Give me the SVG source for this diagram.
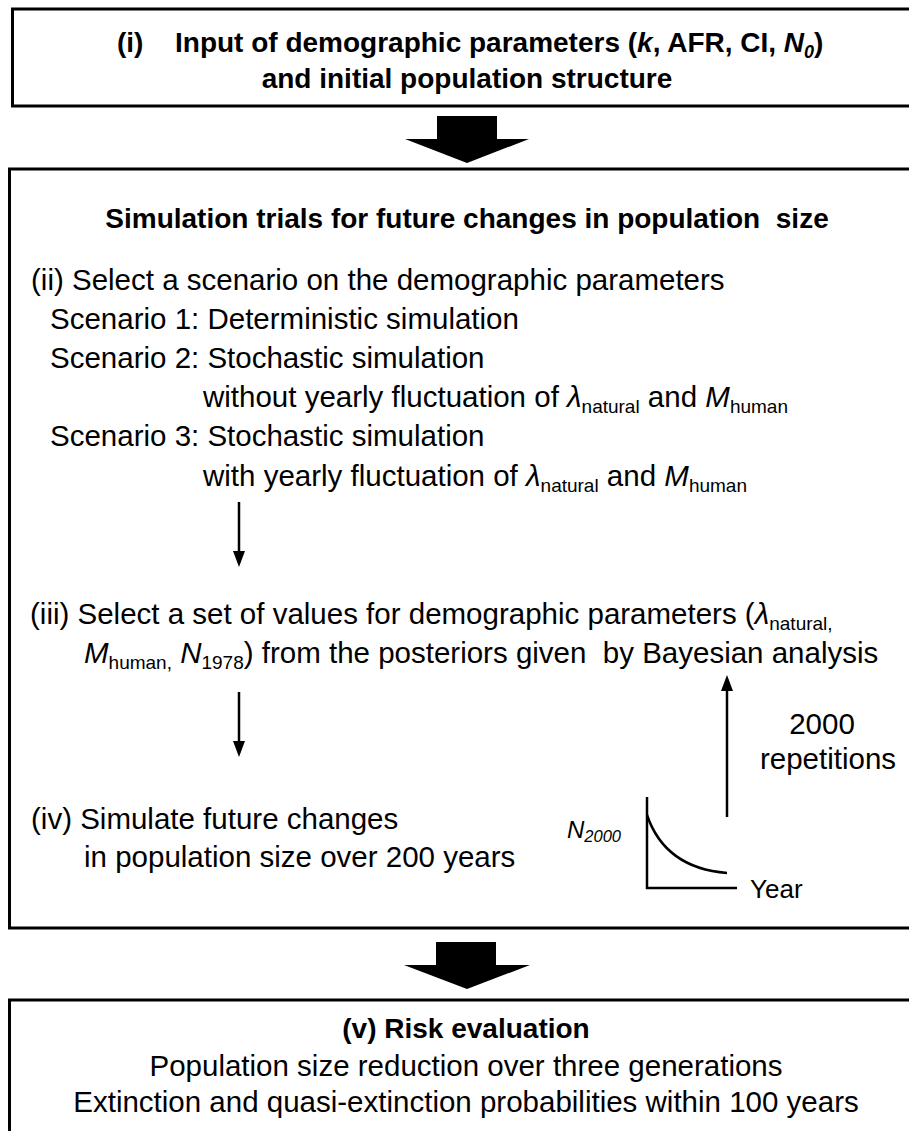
<svg xmlns="http://www.w3.org/2000/svg" width="909" height="1131" viewBox="0 0 909 1131">
<style>
text { font-family: "Liberation Sans", Arial, sans-serif; fill: #000; }
.r { font-size: 29.5px; }
.b { font-size: 28px; font-weight: bold; }
.i { font-style: italic; }
.sub { font-size: 19px; }
.box { fill: #fff; stroke: #000; stroke-width: 3; }
.ln { stroke: #000; stroke-width: 2.5; fill: none; }
.big { fill: #000; }
</style>
<defs>
<marker id="ah" markerWidth="16" markerHeight="12" viewBox="0 0 16 12" refX="12" refY="6" orient="auto" markerUnits="userSpaceOnUse">
<path d="M0,0 L16,6 L0,12 z" fill="#000"/>
</marker>
</defs>
<rect width="909" height="1131" fill="#fff"/>

<g id="box1">
<rect class="box" x="12.5" y="9" width="920" height="97"/>
<text class="b" y="52" font-size="27.5"><tspan x="117">(i)</tspan><tspan x="175">Input of demographic parameters (</tspan><tspan class="i">k</tspan>, AFR, CI, <tspan class="i">N</tspan><tspan class="i" font-size="18" dy="6">0</tspan><tspan dy="-6">)</tspan></text>
<text class="b" x="467" y="88" text-anchor="middle">and initial population structure</text>
</g>

<g id="box2">
<rect class="box" x="9.5" y="169" width="920" height="759"/>
<text class="b" x="467" y="228" text-anchor="middle" xml:space="preserve">Simulation trials for future changes in population  size</text>
<text class="r" x="31" y="290">(ii) Select a scenario on the demographic parameters</text>
<text class="r" x="50" y="329">Scenario 1: Deterministic simulation</text>
<text class="r" x="50" y="368">Scenario 2: Stochastic simulation</text>
<text class="r" x="203" y="407">without yearly fluctuation of <tspan class="i">λ</tspan><tspan class="sub" dy="6">natural</tspan><tspan dy="-6"> and </tspan><tspan class="i">M</tspan><tspan class="sub" dy="6">human</tspan></text>
<text class="r" x="50" y="446">Scenario 3: Stochastic simulation</text>
<text class="r" x="203" y="486">with yearly fluctuation of <tspan class="i">λ</tspan><tspan class="sub" dy="6">natural</tspan><tspan dy="-6"> and </tspan><tspan class="i">M</tspan><tspan class="sub" dy="6">human</tspan></text>
<text class="r" x="30" y="624">(iii) Select a set of values for demographic parameters (<tspan class="i">λ</tspan><tspan class="sub" dy="6">natural,</tspan></text>
<text class="r" x="84" y="663" xml:space="preserve"><tspan class="i">M</tspan><tspan class="sub" dy="6">human,</tspan><tspan dy="-6"> </tspan><tspan class="i">N</tspan><tspan class="sub" dy="6">1978</tspan><tspan dy="-6">) from the posteriors given  by Bayesian analysis</tspan></text>
<text class="r" x="822" y="734" text-anchor="middle">2000</text>
<text class="r" x="828" y="769" text-anchor="middle">repetitions</text>
<text class="r" x="31" y="829">(iv) Simulate future changes</text>
<text class="r" x="84" y="867">in population size over 200 years</text>
</g>

<g id="graph">
<path class="ln" d="M647,797 L647,888 L737,888"/>
<path class="ln" d="M647,815 Q665,868 727,873"/>
<text class="i" x="567" y="838" font-size="24">N<tspan font-size="16.5" dy="4">2000</tspan></text>
<text x="750" y="898" font-size="26">Year</text>
</g>

<g id="box3">
<rect class="box" x="9.5" y="1000" width="920" height="150"/>
<text class="b" x="466" y="1038" text-anchor="middle">(v) Risk evaluation</text>
<text class="r" x="466" y="1076" text-anchor="middle">Population size reduction over three generations</text>
<text class="r" x="466" y="1112" text-anchor="middle">Extinction and quasi-extinction probabilities within 100 years</text>
</g>

<g id="connectors">
<polygon class="big" points="437,116 497,116 497,139 529,139 467,163 405,139 437,139"/>
<polygon class="big" points="436,942 496,942 496,965 530,965 467,989 404,965 436,965"/>
<line class="ln" x1="239" y1="502" x2="239" y2="563" marker-end="url(#ah)"/>
<line class="ln" x1="239" y1="692" x2="239" y2="753" marker-end="url(#ah)"/>
<line class="ln" x1="727" y1="817" x2="727" y2="679" marker-end="url(#ah)"/>
</g>
</svg>
